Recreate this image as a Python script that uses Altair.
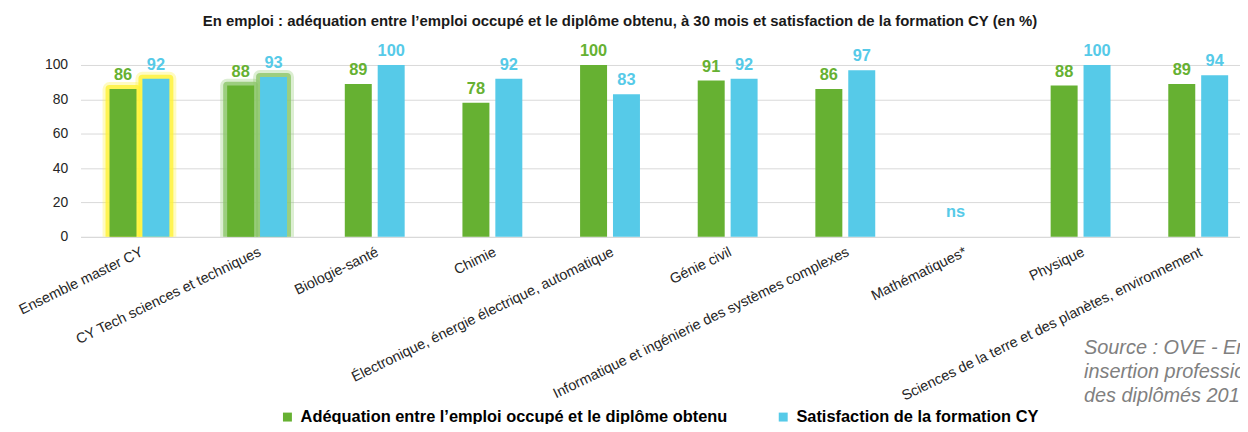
import altair as alt
import pandas as pd

categories = [
    "Ensemble master CY",
    "CY Tech sciences et techniques",
    "Biologie-santé",
    "Chimie",
    "Électronique, énergie électrique, automatique",
    "Génie civil",
    "Informatique et ingénierie des systèmes complexes",
    "Mathématiques*",
    "Physique",
    "Sciences de la terre et des planètes, environnement",
]
adequation = [86, 88, 89, 78, 100, 91, 86, None, 88, 89]
satisfaction = [92, 93, 100, 92, 83, 92, 97, None, 100, 94]

series_names = [
    "Adéquation entre l’emploi occupé et le diplôme obtenu",
    "Satisfaction de la formation CY",
]
series_colors = ["#66B132", "#56CAE8"]

glow_categories = ["Ensemble master CY", "CY Tech sciences et techniques"]
glow_colors = ["#FFF236", "#8CC66A"]

ns_category = "Mathématiques*"
ns_label = "ns"
ns_y = 10

y_ticks = [0, 20, 40, 60, 80, 100]

title_text = "En emploi : adéquation entre l’emploi occupé et le diplôme obtenu, à 30 mois  et satisfaction de la formation CY (en %)"
source_lines = ["Source : OVE - Enquête", "insertion professionnelle", "des diplômés 2019"]

FONT = "Liberation Sans"

rows = []
for i, cat in enumerate(categories):
    for s, vals in zip(series_names, [adequation, satisfaction]):
        v = vals[i]
        if v is not None:
            glow = None
            if cat in glow_categories:
                glow = glow_colors[glow_categories.index(cat)]
            rows.append({"category": cat, "series": s, "value": v, "glow": glow})
df = pd.DataFrame(rows)
glow_df = df[df["glow"].notna()]
ns_df = pd.DataFrame([{"category": ns_category, "label": ns_label, "value": ns_y}])
title_df = pd.DataFrame([{"t": title_text}])

x_enc = alt.X(
    "category:N",
    sort=categories,
    scale=alt.Scale(paddingInner=0.491, paddingOuter=0.1735, align=0.71),
    axis=alt.Axis(
        title=None,
        grid=False,
        labelAngle=-26,
        labelAlign="right",
        labelBaseline="top",
        labelPadding=8,
        ticks=False,
        domainColor="#d9d9d9",
        labelFontSize=14.5,
        labelColor="#262626",
        labelFont=FONT,
        labelLimit=700,
    ),
)
xoff_enc = alt.XOffset("series:N", sort=series_names, scale=alt.Scale(paddingInner=0.18, paddingOuter=0))
y_enc = alt.Y(
    "value:Q",
    scale=alt.Scale(domain=[0, 100], nice=False),
    axis=alt.Axis(
        values=y_ticks,
        title=None,
        grid=True,
        domain=False,
        ticks=False,
        gridColor="#d9d9d9",
        labelPadding=13,
        labelFontSize=14,
        labelColor="#262626",
        labelFont=FONT,
    ),
)
color_enc = alt.Color(
    "series:N",
    sort=series_names,
    scale=alt.Scale(domain=series_names, range=series_colors),
    legend=alt.Legend(
        orient="none",
        legendX=200,
        legendY=346,
        direction="horizontal",
        title=None,
        symbolType="square",
        symbolSize=81,
        symbolStrokeWidth=0,
        labelFontSize=16.5,
        labelFontWeight="bold",
        labelFont=FONT,
        labelColor="#000000",
        columnPadding=47,
        labelLimit=700,
        labelOffset=5,
    ),
)

base = alt.Chart(df)

glow_outer = alt.Chart(glow_df).mark_bar(
    fillOpacity=0, strokeWidth=14, strokeOpacity=0.3, strokeJoin="round", clip=True
).encode(x=x_enc, xOffset=xoff_enc, y=y_enc, stroke=alt.Stroke("glow:N", scale=None))
glow_inner = alt.Chart(glow_df).mark_bar(
    fillOpacity=0, strokeWidth=8, strokeOpacity=0.8, strokeJoin="round", clip=True
).encode(x=x_enc, xOffset=xoff_enc, y=y_enc, stroke=alt.Stroke("glow:N", scale=None))

bars = base.mark_bar().encode(x=x_enc, xOffset=xoff_enc, y=y_enc, color=color_enc)

labels = base.mark_text(
    baseline="bottom", dy=-6, fontSize=16.5, fontWeight="bold", font=FONT
).encode(x=x_enc, xOffset=xoff_enc, y=y_enc, text=alt.Text("value:Q"), color=color_enc)

ns_text = alt.Chart(ns_df).mark_text(
    baseline="bottom", dx=-7.5, fontSize=16.5, fontWeight="bold", font=FONT, color=series_colors[1]
).encode(x=x_enc, y=y_enc, text="label:N")

source = alt.Chart(ns_df).mark_text(
    align="left", baseline="top", fontSize=20, fontStyle="italic", font=FONT,
    color="#808080", lineHeight=24,
).encode(x=alt.value(1010), y=alt.value(275), text=alt.value(source_lines))

title = alt.Chart(title_df).mark_text(
    align="center", baseline="middle", fontSize=15, fontWeight="bold", font=FONT, color="#1a1a1a"
).encode(x=alt.value(543), y=alt.value(-44), text="t:N")

chart = alt.layer(glow_outer, glow_inner, bars, labels, ns_text, source, title).properties(
    width=1167,
    height=173,
    padding={"left": 73, "top": 56, "right": 0, "bottom": 187},
    autosize=alt.AutoSizeParams(type="none"),
).configure_view(stroke=None)

chart.save("out.html", embed_options={"renderer": "svg", "actions": False})
